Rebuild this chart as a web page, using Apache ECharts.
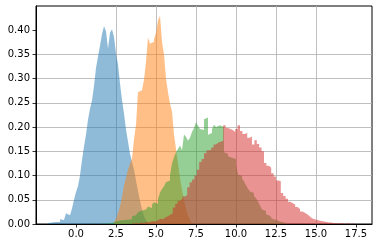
<!DOCTYPE html>
<html><head><meta charset="utf-8">
<script src="https://cdn.jsdelivr.net/npm/echarts@6/dist/echarts.min.js"></script>
<style>html,body{margin:0;padding:0;background:#fff}#c{width:378px;height:248px}</style>
</head><body><div id="c"></div>
<script>
// Tick labels
const xTicks = [0, 2.5, 5, 7.5, 10, 12.5, 15, 17.5];
const yTicks = [0, 0.05, 0.10, 0.15, 0.20, 0.25, 0.30, 0.35, 0.40];

// Series 1 (blue): bins start, bin width, densities
const blueStart = -1.75, blueWidth = 0.125;
const blueDensity = [0.002,0.003,0.002,0.004,0.005,0.004,0.010,0.008,0.009,0.022,0.018,0.020,0.032,0.050,
  0.066,0.078,0.100,0.132,0.160,0.185,0.215,0.238,0.255,0.285,0.322,0.346,0.368,0.392,0.408,0.398,0.362,0.395,0.402,0.386,0.352,0.330,0.290,0.256,0.228,0.195,0.170,0.145,0.128,0.112,0.090,0.068,0.048,0.030,0.016,0.008,0.003];

// Series 2 (orange)
const orangeStart = 2.375, orangeWidth = 0.125;
const orangeDensity = [0.004,0.010,0.022,0.036,0.055,0.080,0.095,0.112,0.125,0.135,0.175,0.205,0.272,0.276,0.280,0.298,0.335,0.385,0.372,0.376,0.382,0.395,0.420,0.430,0.376,0.350,0.300,0.272,0.248,0.232,0.185,0.155,0.125,0.095,0.070,0.050,0.032,0.018,0.008,0.003];

// Series 3 (green)
const greenStart = 1.0, greenWidth = 0.125;
const greenDensity = [0.001,0,0.001,0,0.002,0.001,0.002,0.001,0.003,0.002,0.004,0.005,0.006,0.007,0.005,0.008,0.010,0.009,0.011,0.010,0.016,0.018,0.015,0.024,0.028,0.026,0.030,0.034,0.036,0.033,0.040,0.045,0.042,0.052,0.065,0.072,0.078,0.086,0.090,0.101,0.125,0.138,0.148,0.155,0.162,0.152,0.185,0.180,0.172,0.178,0.190,0.198,0.210,0.203,0.196,0.194,0.216,0.220,0.184,0.188,0.196,0.205,0.200,0.204,0.206,0.200,0.148,0.145,0.140,0.137,0.136,0.134,0.124,0.102,0.099,0.094,0.088,0.080,0.073,0.067,0.064,0.058,0.053,0.047,0.038,0.030,0.027,0.020,0.017,0.014,0.011,0.009,0.007,0.005,0.004,0.003,0.002,0.002];

// Series 4 (red)
const redStart = 3.5, redWidth = 0.15;
const redDensity = [0.001,0.002,0.001,0.003,0.002,0.004,0.003,0.005,0.006,0.005,0.009,0.011,0.010,0.014,0.016,0.019,0.022,0.034,0.042,0.048,0.052,0.057,0.060,0.076,0.086,0.092,0.100,0.112,0.128,0.134,0.146,0.152,0.153,0.158,0.164,0.168,0.170,0.172,0.204,0.198,0.196,0.194,0.190,0.196,0.204,0.192,0.186,0.188,0.178,0.180,0.164,0.173,0.165,0.158,0.150,0.126,0.120,0.116,0.105,0.098,0.090,0.088,0.064,0.058,0.052,0.046,0.043,0.040,0.035,0.031,0.026,0.023,0.020,0.016,0.012,0.010,0.009,0.007,0.006,0.005,0.004,0.003,0.003,0.002,0.002,0.001,0.002,0.001,0,0.002,0,0.001,0.001];

function stepData(start, width, vals) {
  const d = vals.map((v, i) => [start + i * width, v]);
  d.push([start + vals.length * width, 0]);
  return d;
}
function histSeries(start, width, vals, color) {
  return {
    type: 'line', data: stepData(start, width, vals), step: 'end',
    symbol: 'none', showSymbol: false, silent: true,
    lineStyle: { width: 0, opacity: 0 },
    areaStyle: { color: color, opacity: 1 }
  };
}

const chart = echarts.init(document.getElementById('c'), null, { renderer: 'canvas' });
const font = 'DejaVu Sans';
chart.setOption({
  animation: false,
  backgroundColor: '#ffffff',
  grid: { left: 36, right: 6, top: 6, bottom: 24, show: true, borderColor: '#000', borderWidth: 1, backgroundColor: 'transparent' },
  xAxis: {
    type: 'value', min: -2.5, max: 18.5, interval: 2.5, z: 3,
    axisLine: { show: true, onZero: false, lineStyle: { color: '#000', width: 1 } },
    axisTick: { show: true, length: 3.5, customValues: xTicks, lineStyle: { color: '#000', width: 0.8 } },
    axisLabel: { customValues: xTicks, formatter: v => v.toFixed(1), color: '#000', fontSize: 10, fontFamily: font, margin: 5 },
    splitLine: { show: true, showMinLine: false, showMaxLine: false, lineStyle: { color: '#b0b0b0', width: 0.8 } }
  },
  yAxis: {
    type: 'value', min: 0, max: 0.45, interval: 0.05, z: 3,
    axisLine: { show: true, onZero: false, lineStyle: { color: '#000', width: 1 } },
    axisTick: { show: true, length: 3.5, customValues: yTicks, lineStyle: { color: '#000', width: 0.8 } },
    axisLabel: { customValues: yTicks, formatter: v => v.toFixed(2), color: '#000', fontSize: 10, fontFamily: font, margin: 6 },
    splitLine: { show: true, showMinLine: false, showMaxLine: false, lineStyle: { color: '#b0b0b0', width: 0.8 } }
  },
  series: [
    histSeries(blueStart, blueWidth, blueDensity, 'rgba(31,119,180,0.5)'),
    histSeries(orangeStart, orangeWidth, orangeDensity, 'rgba(255,127,14,0.5)'),
    histSeries(greenStart, greenWidth, greenDensity, 'rgba(44,160,44,0.5)'),
    histSeries(redStart, redWidth, redDensity, 'rgba(214,39,40,0.5)')
  ]
});
</script>
</body></html>
